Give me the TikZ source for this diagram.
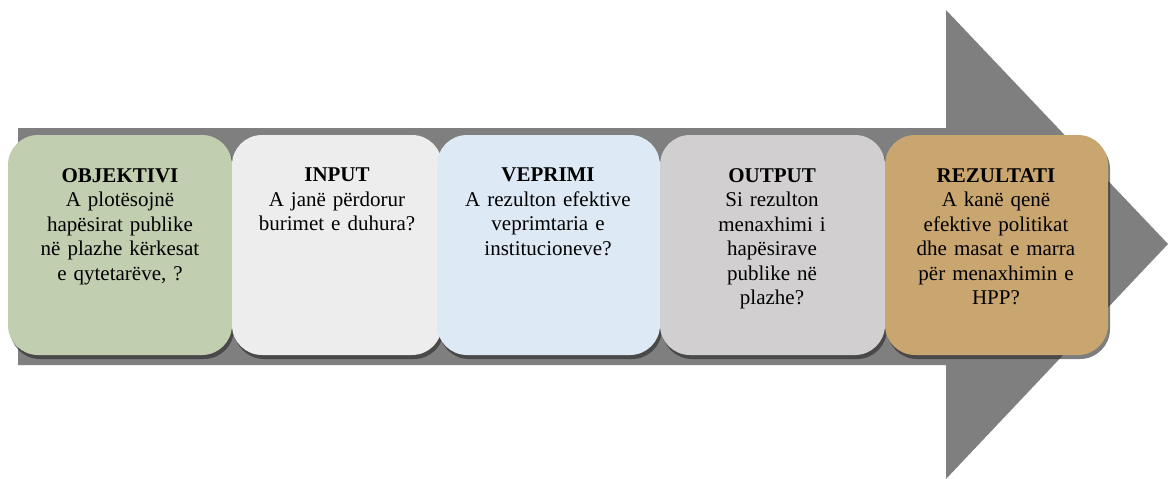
\documentclass[tikz,border=0pt]{standalone}
\usepackage{fontspec}
\setmainfont{Liberation Serif}
\usetikzlibrary{shadows}
\definecolor{arrowgray}{RGB}{127,127,127}
\definecolor{cgreen}{RGB}{193,206,176}
\definecolor{clight}{RGB}{237,237,237}
\definecolor{cblue}{RGB}{221,233,245}
\definecolor{cgray}{RGB}{209,207,208}
\definecolor{ctan}{RGB}{201,165,112}
\tikzset{
  stagebox/.style={rounded corners=30pt, drop shadow={shadow xshift=2pt, shadow yshift=-4pt, opacity=0.6, fill=black!85}},
  stagetext/.style={anchor=north, align=center, text width=215pt, inner sep=0pt,
    font=\fontsize{21}{24.5}\selectfont}
}
\begin{document}
\begin{tikzpicture}[x=1pt,y=-1pt]
\useasboundingbox (0,0) rectangle (1168,479);
% big arrow
\fill[arrowgray] (18,128) -- (946,128) -- (946,10) -- (1168,244) -- (946,479) -- (946,365) -- (18,365) -- cycle;
% boxes
\path[stagebox, fill=cgreen] (8,135) rectangle (232,355);
\path[stagebox, fill=clight] (232,135) rectangle (442,355);
\path[stagebox, fill=cblue] (437,135) rectangle (660,355);
\path[stagebox, fill=cgray] (660,135) rectangle (885,355);
\path[stagebox, fill=ctan] (885,135) rectangle (1108,355);
% texts
\node[stagetext] (t1) at (120,168) {\textbf{OBJEKTIVI}\\A plotësojnë\\hapësirat publike\\në plazhe kërkesat\\e qytetarëve, ?};
\node[stagetext] (t2) at (337,168) {\textbf{INPUT}\\A janë përdorur\\burimet e duhura?};
\node[stagetext] (t3) at (548,168) {\textbf{VEPRIMI}\\A rezulton efektive\\veprimtaria e\\institucioneve?};
\node[stagetext] (t4) at (772,168) {\textbf{OUTPUT}\\Si rezulton\\menaxhimi i\\hapësirave\\publike në\\plazhe?};
\node[stagetext] (t5) at (996,168) {\textbf{REZULTATI}\\A kanë qenë\\efektive politikat\\dhe masat e marra\\për menaxhimin e\\HPP?};
\end{tikzpicture}
\end{document}
